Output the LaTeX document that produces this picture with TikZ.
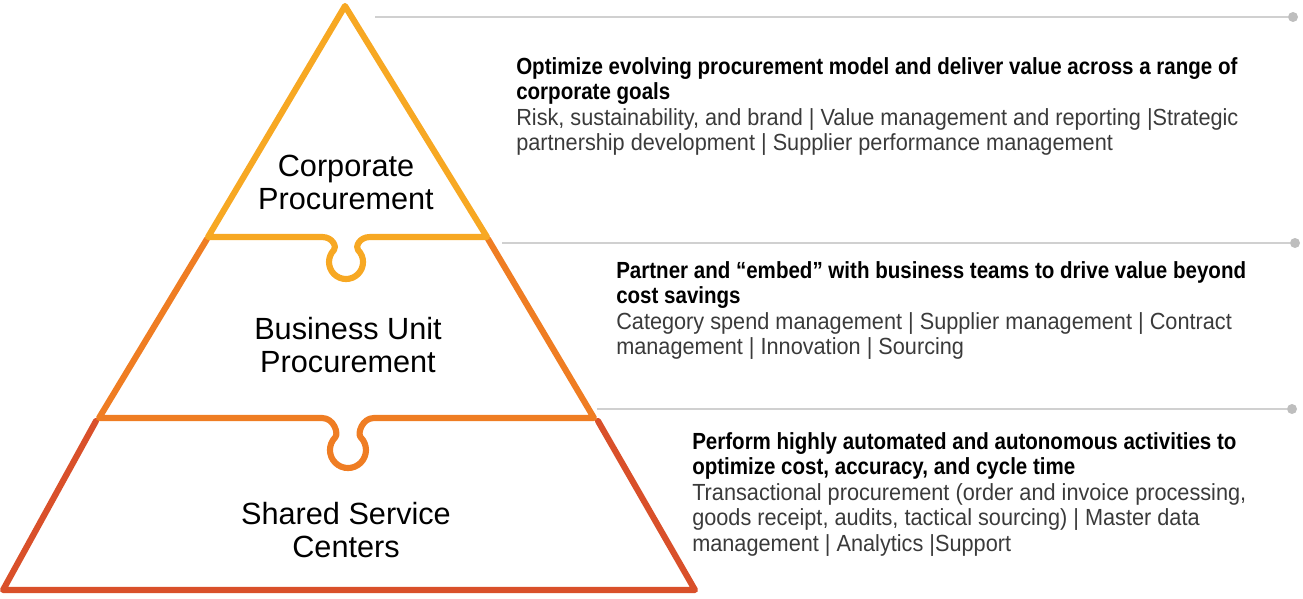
\documentclass[tikz,border=0pt]{standalone}
\usepackage{fontspec}
\setmainfont{Liberation Sans}
\newfontfamily\bodyfam{Liberation Sans}[FakeStretch=0.93]
\newfontfamily\headfam{Liberation Sans}[FakeStretch=0.88]
\definecolor{tieryellow}{HTML}{F7A823}
\definecolor{tierorange}{HTML}{EF7D23}
\definecolor{tierred}{HTML}{D9502A}
\definecolor{guidegray}{HTML}{D0D0D0}
\definecolor{dotgray}{HTML}{BEBEBE}
\definecolor{bodygray}{HTML}{3A3A3A}
\newcommand\hdstyle{\headfam\bfseries\color{black}}
\newcommand\bdstyle{\bodyfam\color{bodygray}}
\begin{document}
\begin{tikzpicture}[x=0.75pt,y=-0.75pt,
  tier/.style={line width=4.6pt, line join=round, line cap=round},
  guide/.style={draw=guidegray, line width=1.5pt},
  enddot/.style={circle, fill=dotgray, minimum size=7.5pt, inner sep=0pt},
  tierlabel/.style={font=\fontsize{23}{24.75}\selectfont, align=center, text=black},
  block/.style={anchor=base west, align=left, inner sep=0pt, font=\fontsize{17.5}{19.1}\selectfont}]
\useasboundingbox (0,0) rectangle (1303,599);

% bottom tier
\draw[tier, draw=tierred] (598,421) -- (695,590) -- (3,590) -- (96,421);
% middle tier
\draw[tier, draw=tierorange] (488,239) -- (594,418) -- (374,418)
  .. controls (362,418) and (357.2,433.8) .. (360.7,437.3)
  arc[start angle=-45, end angle=225, radius=18]
  .. controls (338.8,433.8) and (334,418) .. (322,418) -- (99,418) -- (207,239);
% top tier
\draw[tier, draw=tieryellow] (345,6) -- (208,237) -- (322,237)
  .. controls (333,237) and (336.8,247.2) .. (334,250)
  arc[start angle=225, end angle=-45, radius=17]
  .. controls (355.2,247.2) and (359,237) .. (370,237) -- (487,237) -- cycle;

% guide lines
\coordinate (g1) at (375,17);
\coordinate (g2) at (502,243);
\coordinate (g3) at (597,409);
\node[enddot] (d1) at (1293,17) {};
\node[enddot] (d2) at (1295,243) {};
\node[enddot] (d3) at (1292,409) {};
\draw[guide] (g1) -- (d1);
\draw[guide] (g2) -- (d2);
\draw[guide] (g3) -- (d3);

% tier labels
\node[tierlabel] (corp) at (346,182) {Corporate\\Procurement};
\node[tierlabel] (bup) at (348,345) {Business Unit\\Procurement};
\node[tierlabel] (ssc) at (346,530) {Shared Service\\Centers};

% text blocks (anchored at the baseline of their last line)
\node[block] (t1) at (516,150.5) {{\hdstyle Optimize evolving procurement model and deliver value across a range of}\\{\hdstyle corporate goals}\\{\bdstyle Risk, sustainability, and brand | Value management and reporting |Strategic}\\{\bdstyle partnership development | Supplier performance management}};
\node[block] (t2) at (616,354.5) {{\hdstyle Partner and “embed” with business teams to drive value beyond}\\{\hdstyle cost savings}\\{\bdstyle Category spend management | Supplier management | Contract}\\{\bdstyle management | Innovation | Sourcing}};
\node[block] (t3) at (692,551) {{\hdstyle Perform highly automated and autonomous activities to}\\{\hdstyle optimize cost, accuracy, and cycle time}\\{\bdstyle Transactional procurement (order and invoice processing,}\\{\bdstyle goods receipt, audits, tactical sourcing) | Master data}\\{\bdstyle management | Analytics |Support}};
\end{tikzpicture}
\end{document}
